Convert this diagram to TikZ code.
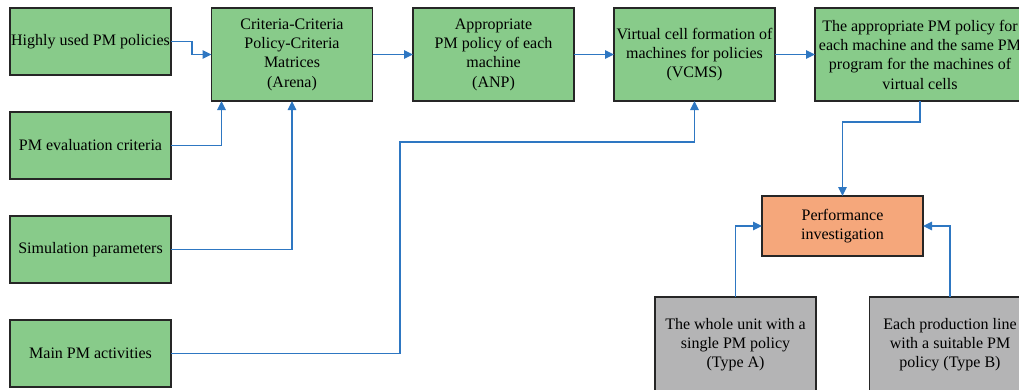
\documentclass[tikz,border=0pt]{standalone}
\usepackage{fontspec}
\setmainfont{Liberation Serif}
\usetikzlibrary{arrows.meta}
\definecolor{cBox}{HTML}{88CB8A}
\definecolor{cPerf}{HTML}{F5A77B}
\definecolor{cType}{HTML}{B4B4B5}
\definecolor{cLine}{HTML}{2E77C2}

\begin{document}
\begin{tikzpicture}[x=1pt, y=1pt,
    every node/.style={inner sep=0pt, outer sep=0pt},
    box/.style  ={draw=black!85, fill=cBox, line width=1.2pt, align=center,
                  minimum width=161pt, font=\fontsize{16}{19.3}\selectfont},
    inbox/.style={box, minimum height=67pt},
    topb/.style ={box, minimum height=93pt},
    perfb/.style={box, fill=cPerf, minimum height=60pt},
    typeb/.style={box, fill=cType, minimum height=95pt},
    ar/.style   ={-{Triangle[length=9pt,width=8.5pt]}, draw=cLine, line width=1.3pt}]

\useasboundingbox (0,0) rectangle (1019,-389);

\def\LX{90.5}  % input column centre

% ── inputs ──────────────────────────────────────────────────────────────
\node[inbox] (hi)  at (\LX,-41.5)  {Highly used PM policies};
\node[inbox] (ev)  at (\LX,-145.5) {PM evaluation criteria};
\node[inbox] (sim) at (\LX,-249.5) {Simulation parameters};
\node[inbox] (act) at (\LX,-353.5) {Main PM activities};

% ── main chain ──────────────────────────────────────────────────────────
\node[topb] (mat) at (292,-54.5)
  {Criteria-Criteria\\Policy-Criteria\\Matrices\\(Arena)};
\node[topb] (anp) at (493.5,-54.5)
  {Appropriate\\PM policy of each\\machine\\(ANP)};
\node[topb] (vc)  at (694.5,-54.5)
  {Virtual cell formation of\\machines for policies\\(VCMS)};
\node[topb, minimum width=210pt] (res) at (920,-54.5)
  {The appropriate PM policy for\\each machine and the same PM\\program for the machines of\\virtual cells};

% ── evaluation ──────────────────────────────────────────────────────────
\node[perfb] (perf) at (842.5,-226) {Performance\\investigation};
\node[typeb] (ta) at (735.5,-344.5)
  {The whole unit with a\\single PM policy\\(Type A)};
\node[typeb] (tb) at (950,-344.5)
  {Each production line\\with a suitable PM\\policy (Type B)};

\coordinate (bend) at (400,-142);

% ── arrows ──────────────────────────────────────────────────────────────
\draw[ar] (hi.east) -- ++(21,0) |- (mat.west);
\draw[ar] (ev.east) -| ([xshift=10pt]mat.south west);
\draw[ar] (sim.east) -| (mat.south);
\draw[ar] (act.east) -| (bend) -| (vc.south);
\draw[ar] (mat.east) -- (anp.west);
\draw[ar] (anp.east) -- (vc.west);
\draw[ar] (vc.east) -- (res.west);
\draw[ar] (res.south) -- ++(0,-21) -| (perf.north);
\draw[ar] (ta.north) |- (perf.west);
\draw[ar] (tb.north) |- (perf.east);
\end{tikzpicture}
\end{document}
